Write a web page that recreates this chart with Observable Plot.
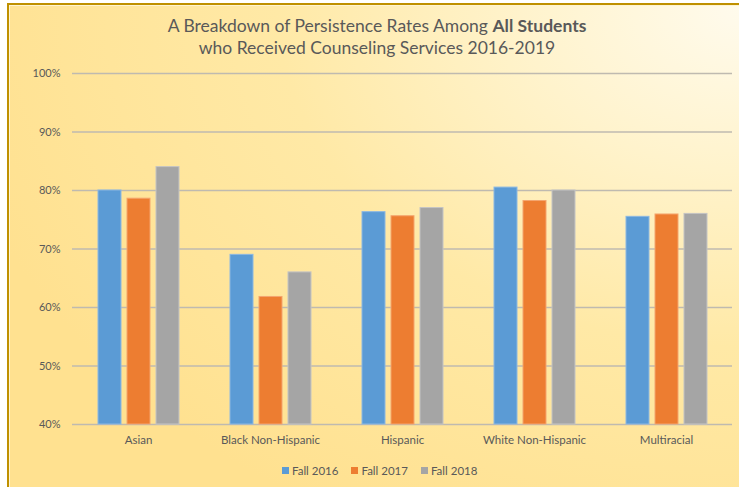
<!DOCTYPE html>
<html>
<head>
<meta charset="utf-8">
<script src="https://cdn.jsdelivr.net/npm/d3@7"></script>
<script src="https://cdn.jsdelivr.net/npm/@observablehq/plot@0.6"></script>
<style>
  html, body { margin: 0; padding: 0; background: #ffffff; width: 739px; height: 487px; overflow: hidden; }
  #frame {
    position: absolute; left: 7px; top: 3px; width: 740px; height: 492px;
    border-top: 2px solid #BF9000; border-left: 2px solid #BF9000;
    box-shadow: inset 1px 1px 0 #fff4d0;
    background: radial-gradient(ellipse 110% 120% at 100% 0%, #fffbee 0%, #fff3cc 28%, #ffe9a6 58%, #ffe190 100%);
  }
  #title {
    position: absolute; left: 0; top: 15px; width: 754px; text-align: center;
    font-family: Lato, "Open Sans", sans-serif; font-size: 17.5px; line-height: 22px; color: #595959;
  }
  #chart { position: absolute; left: 0; top: 0; }
  #legend { position: absolute; left: 282px; top: 454px; }
  #legend span > svg { margin-right: 3px !important; }
  #legend span { margin-right: 13px !important; }
</style>
</head>
<body>
<div id="frame"></div>
<div id="title">A Breakdown of Persistence Rates Among <b>All Students</b><br>who Received Counseling Services 2016-2019</div>
<div id="chart"></div>
<div id="legend"></div>
<script>
const categories = ["Asian", "Black Non-Hispanic", "Hispanic", "White Non-Hispanic", "Multiracial"];
const series = ["Fall 2016", "Fall 2017", "Fall 2018"];
const fall2016 = [80, 69, 76.3, 80.5, 75.5];
const fall2017 = [78.6, 61.8, 75.6, 78.2, 75.9];
const fall2018 = [84, 66, 77, 80, 76];
const yTicks = [40, 50, 60, 70, 80, 90, 100];
const colors = ["#5B9BD5", "#ED7D31", "#A5A5A5"];
const strokes = ["#8cb8e2", "#f4a56f", "#c4c4c4"];

const seriesValues = [fall2016, fall2017, fall2018];
const data = [];
categories.forEach((c, i) => {
  series.forEach((s, j) => data.push({category: c, series: s, value: seriesValues[j][i]}));
});

const chart = Plot.plot({
  width: 739,
  height: 487,
  marginLeft: 70,
  marginRight: 6,
  marginTop: 73,
  marginBottom: 63,
  style: {background: "transparent", fontFamily: "Lato, 'Open Sans', sans-serif", fontSize: "11.5px", color: "#595959"},
  fx: {domain: categories, padding: 0, label: null},
  x: {domain: series, paddingInner: 0.22, paddingOuter: 0.857, axis: null},
  y: {domain: [40, 100], clamp: true},
  color: {domain: series, range: colors},
  marks: [
    Plot.gridY(yTicks, {stroke: "#bfbab0", strokeOpacity: 1, strokeWidth: 1.3}),
    Plot.axisY({ticks: yTicks, tickFormat: d => d + "%", tickSize: 0, tickPadding: 12, label: null, fill: "#595959", fontSize: 11}),
    Plot.axisFx({anchor: "bottom", tickSize: 0, tickPadding: 11, label: null, fill: "#595959"}),
    Plot.barY(data, {fx: "category", x: "series", y1: 40, y2: "value", fill: "series",
      stroke: d => strokes[series.indexOf(d.series)], strokeWidth: 1})
  ]
});
document.getElementById("chart").appendChild(chart);

const legend = Plot.legend({
  color: {domain: series, range: colors},
  swatchWidth: 7, swatchHeight: 7,
  style: {fontFamily: "Lato, 'Open Sans', sans-serif", fontSize: "11.5px", color: "#595959", background: "transparent"}
});
document.getElementById("legend").appendChild(legend);
</script>
</body>
</html>
